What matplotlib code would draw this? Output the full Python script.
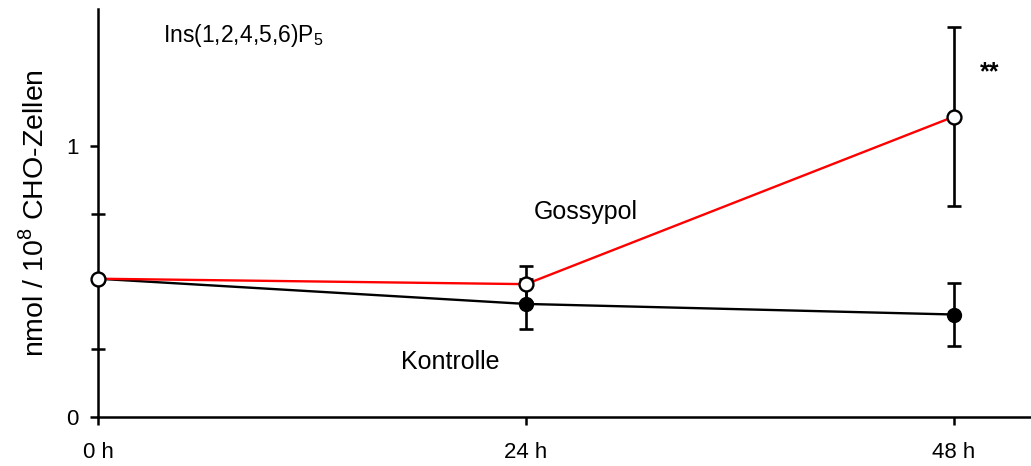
import numpy as np
import matplotlib
matplotlib.use('Agg')
import matplotlib.pyplot as plt
from matplotlib.ticker import FixedLocator

plt.rcParams['font.family'] = ['Liberation Sans', 'DejaVu Sans']
plt.rcParams['mathtext.fontset'] = 'custom'
plt.rcParams['mathtext.rm'] = 'Liberation Sans'

# time points (h) and InsP5 levels per 10^8 cells
hours = [0, 24, 48]
tick_labels = ['0 h', '24 h', '48 h']

kontrolle = [0.51, 0.417, 0.378]
kontrolle_err = [0.0, 0.092, 0.115]

gossypol = [0.51, 0.49, 1.108]
gossypol_err = [0.0, 0.067, 0.33]

fig = plt.figure(figsize=(10.31, 4.66), dpi=100)
ax = fig.add_axes([0.0951, 0.1052, 0.9049, 0.8755])

# control series: filled black circles
ax.errorbar(hours, kontrolle, yerr=kontrolle_err, color='black', lw=1.7,
            elinewidth=1.9, capsize=5, capthick=1.9,
            marker='o', markersize=10, markerfacecolor='black',
            markeredgecolor='black', zorder=3)

# gossypol series: red line, open circles, black error bars
ax.errorbar(hours, gossypol, yerr=gossypol_err, fmt='none', ecolor='black',
            elinewidth=1.9, capsize=5, capthick=1.9, zorder=4)
ax.plot(hours, gossypol, color='red', lw=1.7, zorder=5)
ax.plot(hours, gossypol, linestyle='none', marker='o', markersize=10,
        markerfacecolor='white', markeredgecolor='black',
        markeredgewidth=1.7, zorder=6, clip_on=False)

ax.set_xlim(0, 52.32)
ax.set_ylim(0, 1.505)

ax.set_xticks(hours)
ax.set_xticklabels(tick_labels)
ax.set_yticks([0, 1])
ax.set_yticklabels(['0', '1'])
ax.yaxis.set_minor_locator(FixedLocator([0.25, 0.5, 0.75]))

for side in ['top', 'right']:
    ax.spines[side].set_visible(False)
for side in ['left', 'bottom']:
    ax.spines[side].set_linewidth(1.8)

ax.tick_params(axis='both', which='major', direction='out', length=6,
               width=1.8, labelsize=16, pad=8)
ax.tick_params(axis='x', which='major', pad=12)
ax.tick_params(axis='y', which='minor', direction='inout', length=10,
               width=1.8)

ax.set_ylabel(r'nmol / 10$^{8}$ CHO-Zellen', fontsize=20.5, labelpad=12)

ax.text(3.65, 1.406, r'Ins(1,2,4,5,6)P$_{5}$', fontsize=16.5, va='center',
        ha='left')
ax.text(24.45, 0.756, 'Gossypol', fontsize=18, va='center', ha='left')
ax.text(17.0, 0.203, 'Kontrolle', fontsize=18, va='center', ha='left')
ax.text(50.0, 1.27, '**', fontsize=18, fontweight='bold', va='center',
        ha='center')

fig.savefig('out.png', dpi=100)
